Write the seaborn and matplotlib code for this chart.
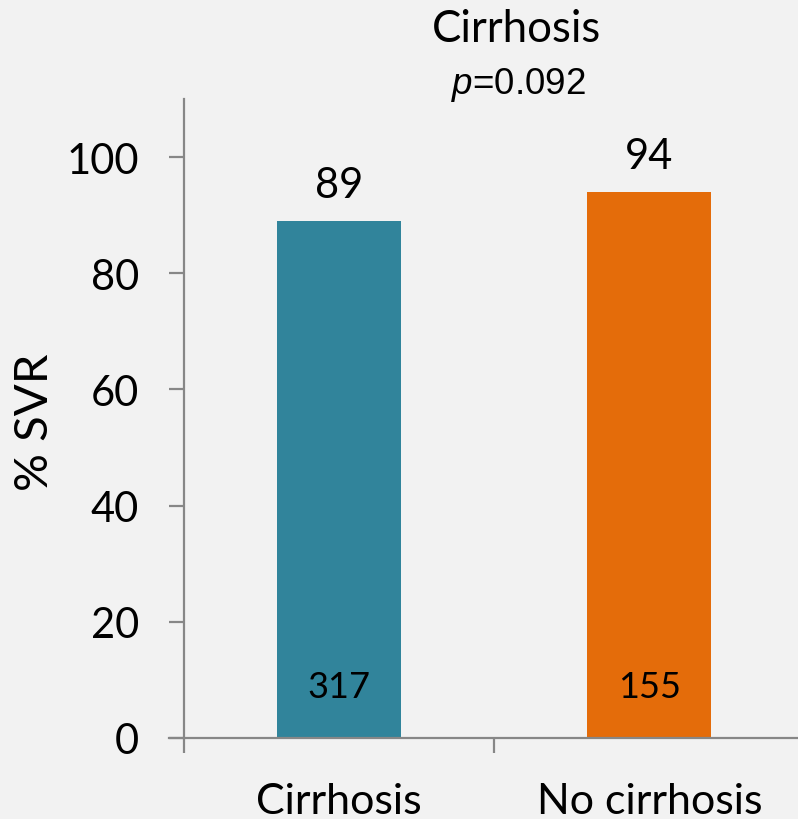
import matplotlib
matplotlib.use("Agg")
import matplotlib.pyplot as plt
import seaborn as sns
import pandas as pd

categories = ["Cirrhosis", "No cirrhosis"]
svr = [89, 94]
n_patients = [317, 155]
colors = ["#31849B", "#E46C0A"]
title = "Cirrhosis"
p_text = "0.092"
y_ticks = [0, 20, 40, 60, 80, 100]

sns.set_theme(style="white")
plt.rcParams["font.family"] = ["Lato", "DejaVu Sans"]
plt.rcParams["mathtext.fontset"] = "custom"
plt.rcParams["mathtext.it"] = "Liberation Sans:italic"
plt.rcParams["mathtext.rm"] = "Liberation Sans"

bg = "#F2F2F2"
axis_col = "#878787"
W, H = 798, 820
fig = plt.figure(figsize=(W / 100, H / 100), dpi=100, facecolor=bg)
ax = fig.add_axes([184 / W, 81 / H, (W - 184) / W, (739 - 100) / H])
ax.set_facecolor(bg)

df = pd.DataFrame({"cat": categories, "svr": svr})
sns.barplot(data=df, x="cat", y="svr", hue="cat", palette=colors, order=categories,
            width=0.4, legend=False, ax=ax, saturation=1, edgecolor="none")

for s in ["top", "right"]:
    ax.spines[s].set_visible(False)
for s in ["left", "bottom"]:
    ax.spines[s].set_color(axis_col)
    ax.spines[s].set_linewidth(1.6)

ax.set_yticks(y_ticks)
ax.set_yticklabels([str(t) for t in y_ticks], fontsize=30)
ax.tick_params(axis="y", which="major", direction="out", length=10.5, width=1.6,
               color=axis_col, pad=22, labelcolor="black", left=True)

ax.set_xticks([0, 1])
ax.set_xticklabels(categories, fontsize=31)
ax.tick_params(axis="x", which="major", length=0, pad=32, labelcolor="black")
ax.set_xticks([-0.5, 0.5], minor=True)
ax.tick_params(axis="x", which="minor", direction="out", length=11, width=1.6,
               color=axis_col, bottom=True)
ax.set_xlabel("")
ax.set_ylabel("")

ax.set_xlim(-0.5, 1.479)
ax.set_ylim(0, 110)
ax.spines["bottom"].set_bounds(-0.549, 1.479)

for i, (v, n) in enumerate(zip(svr, n_patients)):
    ax.annotate(str(v), (i, v), xytext=(0, 12.5), textcoords="offset points",
                ha="center", va="bottom", fontsize=30, color="black")
    ax.annotate(str(n), (i, 0), xytext=(0, 37), textcoords="offset points",
                ha="center", va="center", fontsize=26, color="black")

fig.text(35 / W, 1 - 422 / H, "% SVR", rotation=90, ha="center", va="center",
         fontsize=34, color="black")
fig.text(516 / W, 1 - 30 / H, title, ha="center", va="center", fontsize=31.5, color="black")
fig.text(518 / W, 1 - 85 / H, r"$\it{p}$=" + p_text, ha="center", va="center",
         fontsize=26.5, color="black", family="Liberation Sans")

fig.savefig("out.png", dpi=100, facecolor=bg)
